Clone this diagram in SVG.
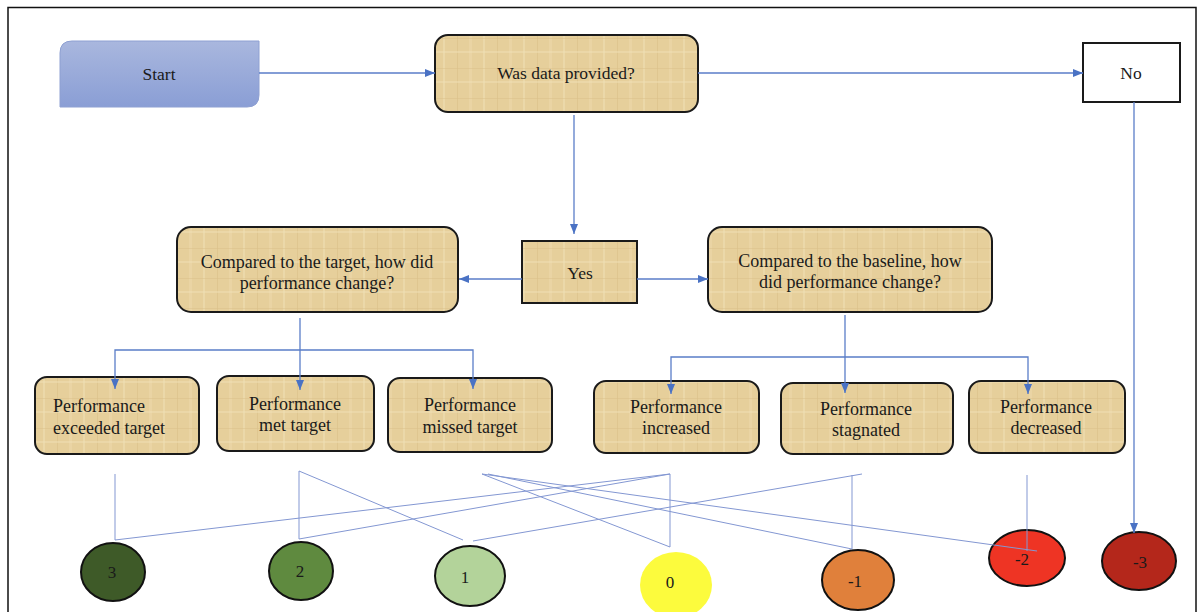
<svg xmlns="http://www.w3.org/2000/svg" width="1202" height="612" viewBox="0 0 1202 612">
<defs>
<linearGradient id="startGrad" x1="0" y1="0" x2="0" y2="1">
<stop offset="0" stop-color="#A9B7DE"/>
<stop offset="1" stop-color="#8A9ED5"/>
</linearGradient>
<pattern id="papyrus" width="40" height="30" patternUnits="userSpaceOnUse">
<rect width="40" height="30" fill="#E6CF9B"/>
<rect x="3" y="0" width="2" height="30" fill="#EFDDB2" opacity="0.6"/>
<rect x="17" y="0" width="1" height="30" fill="#D8BD86" opacity="0.5"/>
<rect x="29" y="0" width="3" height="30" fill="#EEDAAE" opacity="0.5"/>
<rect x="0" y="8" width="40" height="1" fill="#D9C08A" opacity="0.5"/>
<rect x="0" y="21" width="40" height="2" fill="#F0DFB6" opacity="0.5"/>
</pattern>
<marker id="arr" viewBox="0 0 10 8" markerWidth="10" markerHeight="8" refX="10" refY="4" orient="auto" markerUnits="userSpaceOnUse">
<path d="M0,0 L10,4 L0,8 z" fill="#4A72C4"/>
</marker>
<style>
.t{font-family:"Liberation Serif","Times New Roman",serif;fill:#1a1a1a;text-anchor:middle}
.s17{font-size:17.5px}
.s18{font-size:18px}
.s16{font-size:17px}
.tan{fill:url(#papyrus);stroke:#1a1a1a;stroke-width:2}
.conn{fill:none;stroke:#5A7DC8;stroke-width:1.3}
.thin{fill:none;stroke:#8397D2;stroke-width:1}
.circ{stroke:#111;stroke-width:2}
</style>
</defs>
<rect x="8" y="7.5" width="1188" height="620" fill="#fff" stroke="#111" stroke-width="1.5"/>

<g id="start">
<path d="M72,41 L259,41 L259,95 Q259,107 247,107 L60,107 L60,53 Q60,41 72,41 Z" fill="url(#startGrad)" stroke="#8EA0D2" stroke-width="1"/>
<text class="t s17" x="159" y="80">Start</text>
</g>
<g id="was-data">
<rect class="tan" x="435" y="35" width="263" height="77" rx="13"/>
<text class="t s17" x="566" y="79">Was data provided?</text>
</g>
<g id="no">
<rect x="1083" y="43" width="97" height="59" fill="#fff" stroke="#1a1a1a" stroke-width="2"/>
<text class="t s17" x="1131" y="79">No</text>
</g>
<g id="yes">
<rect class="tan" x="522" y="241" width="115" height="62" rx="0"/>
<text class="t s17" x="580" y="279">Yes</text>
</g>
<g id="target-q">
<rect class="tan" x="177" y="227" width="281" height="85" rx="14"/>
<text class="t s18" x="317" y="268">Compared to the target, how did</text>
<text class="t s18" x="317" y="289">performance change?</text>
</g>
<g id="baseline-q">
<rect class="tan" x="708" y="227" width="284" height="85" rx="14"/>
<text class="t s18" x="850" y="267">Compared to the baseline, how</text>
<text class="t s18" x="850" y="288">did performance change?</text>
</g>
<g id="exceeded">
<rect class="tan" x="35" y="377" width="164" height="77" rx="12"/>
<text class="t s18" x="53" y="412" style="text-anchor:start">Performance</text>
<text class="t s18" x="53" y="434" style="text-anchor:start">exceeded target</text>
</g>
<g id="met">
<rect class="tan" x="217" y="376" width="157" height="75" rx="12"/>
<text class="t s18" x="295" y="410">Performance</text>
<text class="t s18" x="295" y="431">met target</text>
</g>
<g id="missed">
<rect class="tan" x="388" y="378" width="164" height="74" rx="12"/>
<text class="t s18" x="470" y="411">Performance</text>
<text class="t s18" x="470" y="433">missed target</text>
</g>
<g id="increased">
<rect class="tan" x="594" y="381" width="165" height="72" rx="12"/>
<text class="t s18" x="676" y="413">Performance</text>
<text class="t s18" x="676" y="434">increased</text>
</g>
<g id="stagnated">
<rect class="tan" x="781" y="383" width="172" height="71" rx="12"/>
<text class="t s18" x="866" y="415">Performance</text>
<text class="t s18" x="866" y="436">stagnated</text>
</g>
<g id="decreased">
<rect class="tan" x="969" y="381" width="156" height="72" rx="12"/>
<text class="t s18" x="1046" y="413">Performance</text>
<text class="t s18" x="1046" y="434">decreased</text>
</g>

<g id="score3">
<ellipse class="circ" cx="113" cy="572" rx="32" ry="29" fill="#3E5A28"/>
<text class="t s16" x="112" y="578">3</text>
</g>
<g id="score2">
<ellipse class="circ" cx="301" cy="571" rx="32" ry="29" fill="#5F8A3F"/>
<text class="t s16" x="300" y="577">2</text>
</g>
<g id="score1">
<ellipse class="circ" cx="470" cy="576" rx="35" ry="30" fill="#B3D39A"/>
<text class="t s16" x="465" y="583">1</text>
</g>
<g id="score0">
<ellipse cx="676" cy="585" rx="36" ry="33" fill="#FCFB3D"/>
<text class="t s16" x="670" y="588">0</text>
</g>
<g id="score-1">
<ellipse class="circ" cx="858" cy="580" rx="36" ry="30" fill="#E0803B"/>
<text class="t s16" x="855" y="587">-1</text>
</g>
<g id="score-2">
<ellipse class="circ" cx="1027" cy="558" rx="38" ry="28" fill="#EE3424"/>
<text class="t s16" x="1022" y="565">-2</text>
</g>
<g id="score-3">
<ellipse class="circ" cx="1139" cy="561" rx="37" ry="29" fill="#B4271B"/>
<text class="t s16" x="1140" y="568">-3</text>
</g>

<g id="connectors">
<line class="conn" x1="259" y1="73" x2="435" y2="73" marker-end="url(#arr)"/>
<line class="conn" x1="698" y1="73" x2="1083" y2="73" marker-end="url(#arr)"/>
<line class="conn" x1="574" y1="115" x2="574" y2="234" marker-end="url(#arr)"/>
<line class="conn" x1="522" y1="279" x2="459" y2="279" marker-end="url(#arr)"/>
<line class="conn" x1="637" y1="279" x2="708" y2="279" marker-end="url(#arr)"/>
<line class="conn" x1="1134" y1="102" x2="1134" y2="533" marker-end="url(#arr)"/>
<line class="conn" x1="300" y1="318" x2="300" y2="390" marker-end="url(#arr)"/>
<polyline class="conn" points="300,350 115,350 115,389" marker-end="url(#arr)"/>
<polyline class="conn" points="300,350 473,350 473,389" marker-end="url(#arr)"/>
<line class="conn" x1="845" y1="315" x2="845" y2="393" marker-end="url(#arr)"/>
<polyline class="conn" points="845,357 671,357 671,394" marker-end="url(#arr)"/>
<polyline class="conn" points="845,357 1028,357 1028,394" marker-end="url(#arr)"/>
<g id="score-lines">
<polyline class="thin" points="115,474 115,540 670,474 670,547 482,474"/>
<polyline class="thin" points="299,471 299,539 670,474"/>
<line class="thin" x1="299" y1="471" x2="463" y2="540"/>
<line class="thin" x1="473" y1="541" x2="862" y2="474"/>
<polyline class="thin" points="852,475 852,549 488,474"/>
<line class="thin" x1="482" y1="474" x2="1037" y2="551"/>
<line class="thin" x1="1027" y1="475" x2="1027" y2="551"/>
</g>
</g>
</svg>
